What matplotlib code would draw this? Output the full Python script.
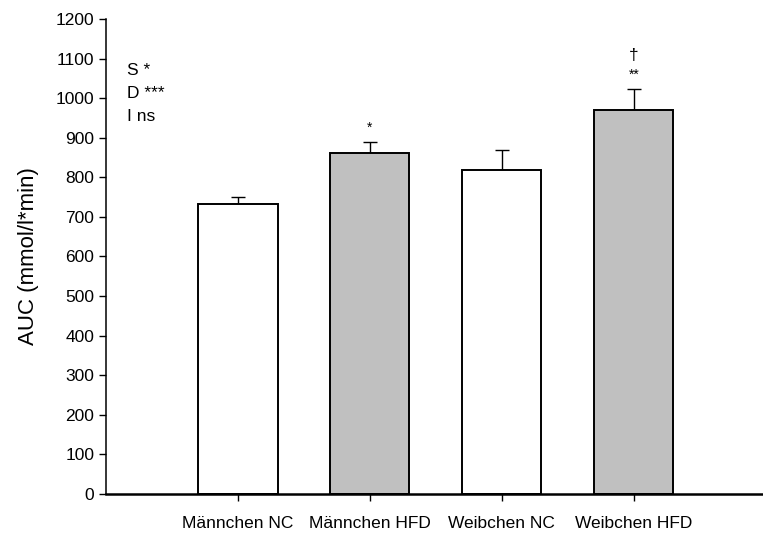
import matplotlib.pyplot as plt
import numpy as np

plt.rcParams['font.family'] = ['Liberation Sans', 'DejaVu Sans']

# Data
groups = ["Männchen NC", "Männchen HFD", "Weibchen NC", "Weibchen HFD"]
auc_mean = [732, 861, 819, 971]
auc_sem = [17, 29, 50, 52]
bar_colors = ["white", "#c0c0c0", "white", "#c0c0c0"]
marks = ["", "*", "", "**"]
dagger = ["", "", "", "†"]
stats_text = ["S *", "D ***", "I ns"]

fig = plt.figure(figsize=(7.63, 5.34), dpi=100)
ax = fig.add_axes([0.139, 0.075, 0.861, 0.8895])

x = np.arange(1, len(groups) + 1)
ax.bar(x, auc_mean, width=0.6, color=bar_colors, edgecolor="black",
       linewidth=1.4, zorder=2)
ax.errorbar(x, auc_mean, yerr=[np.zeros(len(x)), auc_sem], fmt="none",
            ecolor="black", elinewidth=1.0, capsize=5, capthick=1.0, zorder=1)

# significance marks above the bars
for xi, m, s, d in zip(x, auc_mean, auc_sem, marks):
    if d:
        ax.text(xi, m + s + 36, d, ha="center", va="center", fontsize=10)
for xi, m, s, d in zip(x, auc_mean, auc_sem, dagger):
    if d:
        ax.text(xi, m + s + 85, d, ha="center", va="center", fontsize=12.5)

# ANOVA summary
for i, t in enumerate(stats_text):
    ax.text(0.16, 1071 - i * 59, t, ha="left", va="center", fontsize=12.5)

ax.set_xlim(0, 4.98)
ax.set_ylim(0, 1200)
ax.set_yticks(np.arange(0, 1201, 100))
ax.set_xticks(x)
ax.set_xticklabels(groups, fontsize=12.5)
ax.tick_params(axis="y", labelsize=12.5, length=5, width=1.0, direction="out")
ax.tick_params(axis="x", length=5, width=1.0, direction="out", pad=11)
ax.set_ylabel("AUC (mmol/l*min)", fontsize=16, labelpad=12)

ax.spines["top"].set_visible(False)
ax.spines["right"].set_visible(False)
ax.spines["left"].set_linewidth(1.1)
ax.spines["bottom"].set_linewidth(1.8)

fig.savefig("out.png", dpi=100)
